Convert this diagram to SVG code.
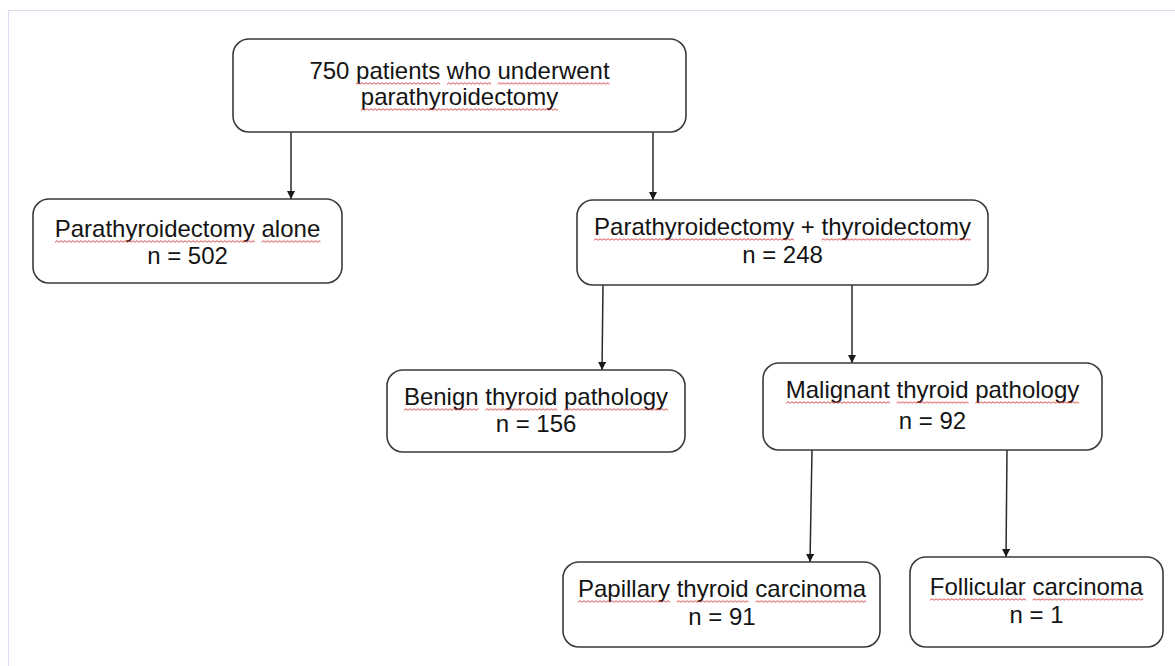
<svg xmlns="http://www.w3.org/2000/svg" width="1175" height="666" viewBox="0 0 1175 666">
<style>
.box{fill:#fff;stroke:#3a3a3a;stroke-width:1.6}
.t{font-family:"Liberation Sans",Arial,sans-serif;font-size:24px;fill:#141414;text-anchor:middle}
.c{stroke:#2a2a2a;stroke-width:1.5;fill:none;marker-end:url(#ah)}
.sq{fill:url(#wv)}
</style>
<defs>
<marker id="ah" viewBox="0 0 10 10" refX="10" refY="5" markerWidth="9" markerHeight="8" markerUnits="userSpaceOnUse" orient="auto">
<path d="M0,0 L10,5 L0,10 z" fill="#1a1a1a"/>
</marker>
<pattern id="wv" patternUnits="userSpaceOnUse" x="0" y="0" width="4" height="3">
<polyline points="0,2.3 2,0.7 4,2.3" fill="none" stroke="#d83a3a" stroke-width="0.9"/>
</pattern>
</defs>
<rect width="1175" height="666" fill="#fff"/>
<path d="M8.5,666 V10.5 H1175" fill="none" stroke="#dcdcf0" stroke-width="1.2"/>
<g id="connectors">
<line class="c" x1="291" y1="132" x2="291" y2="199"/>
<line class="c" x1="653" y1="132" x2="653" y2="200"/>
<line class="c" x1="603" y1="285" x2="602" y2="370"/>
<line class="c" x1="852" y1="285" x2="852" y2="363"/>
<line class="c" x1="812" y1="450" x2="810" y2="562"/>
<line class="c" x1="1007" y1="450" x2="1006" y2="557"/>
</g>
<g id="n1">
<rect class="box" x="233" y="39" width="453" height="93" rx="16"/>
<text class="t" x="459.5" y="79">750 patients who underwent</text>
<text class="t" x="459.5" y="105">parathyroidectomy</text>
<g transform="translate(356,82)"><rect class="sq" width="84" height="3"/></g>
<g transform="translate(447,82)"><rect class="sq" width="44" height="3"/></g>
<g transform="translate(497.5,82)"><rect class="sq" width="112" height="3"/></g>
<g transform="translate(361,108)"><rect class="sq" width="197" height="3"/></g>
</g>
<g id="n2">
<rect class="box" x="33" y="199" width="309" height="84" rx="16"/>
<text class="t" x="187.5" y="237">Parathyroidectomy alone</text>
<text class="t" x="187.5" y="264">n = 502</text>
<g transform="translate(55,240)"><rect class="sq" width="200" height="3"/></g>
<g transform="translate(261.5,240)"><rect class="sq" width="59" height="3"/></g>
</g>
<g id="n3">
<rect class="box" x="577" y="200" width="411" height="85" rx="16"/>
<text class="t" x="782.5" y="235">Parathyroidectomy + thyroidectomy</text>
<text class="t" x="782.5" y="263">n = 248</text>
<g transform="translate(594,238)"><rect class="sq" width="200" height="3"/></g>
<g transform="translate(821.5,238)"><rect class="sq" width="149.5" height="3"/></g>
</g>
<g id="n4">
<rect class="box" x="387" y="370" width="298" height="82" rx="16"/>
<text class="t" x="536" y="405">Benign thyroid pathology</text>
<text class="t" x="536" y="432">n = 156</text>
<g transform="translate(404,408)"><rect class="sq" width="74.5" height="3"/></g>
<g transform="translate(485.3,408)"><rect class="sq" width="72" height="3"/></g>
<g transform="translate(564,408)"><rect class="sq" width="104" height="3"/></g>
</g>
<g id="n5">
<rect class="box" x="763" y="363" width="339" height="87" rx="16"/>
<text class="t" x="932.5" y="398">Malignant thyroid pathology</text>
<text class="t" x="932.5" y="429">n = 92</text>
<g transform="translate(786,401)"><rect class="sq" width="104" height="3"/></g>
<g transform="translate(896.5,401)"><rect class="sq" width="72" height="3"/></g>
<g transform="translate(975.2,401)"><rect class="sq" width="104" height="3"/></g>
</g>
<g id="n6">
<rect class="box" x="563" y="562" width="317" height="85" rx="16"/>
<text class="t" x="722" y="597">Papillary thyroid carcinoma</text>
<text class="t" x="722" y="625">n = 91</text>
<g transform="translate(578,600)"><rect class="sq" width="92" height="3"/></g>
<g transform="translate(676.7,600)"><rect class="sq" width="72" height="3"/></g>
<g transform="translate(755.4,600)"><rect class="sq" width="110.7" height="3"/></g>
</g>
<g id="n7">
<rect class="box" x="910" y="557" width="253" height="90" rx="16"/>
<text class="t" x="1036.5" y="595">Follicular carcinoma</text>
<text class="t" x="1036.5" y="623">n = 1</text>
<g transform="translate(930,598)"><rect class="sq" width="96" height="3"/></g>
<g transform="translate(1032.5,598)"><rect class="sq" width="110.7" height="3"/></g>
</g>
</svg>
